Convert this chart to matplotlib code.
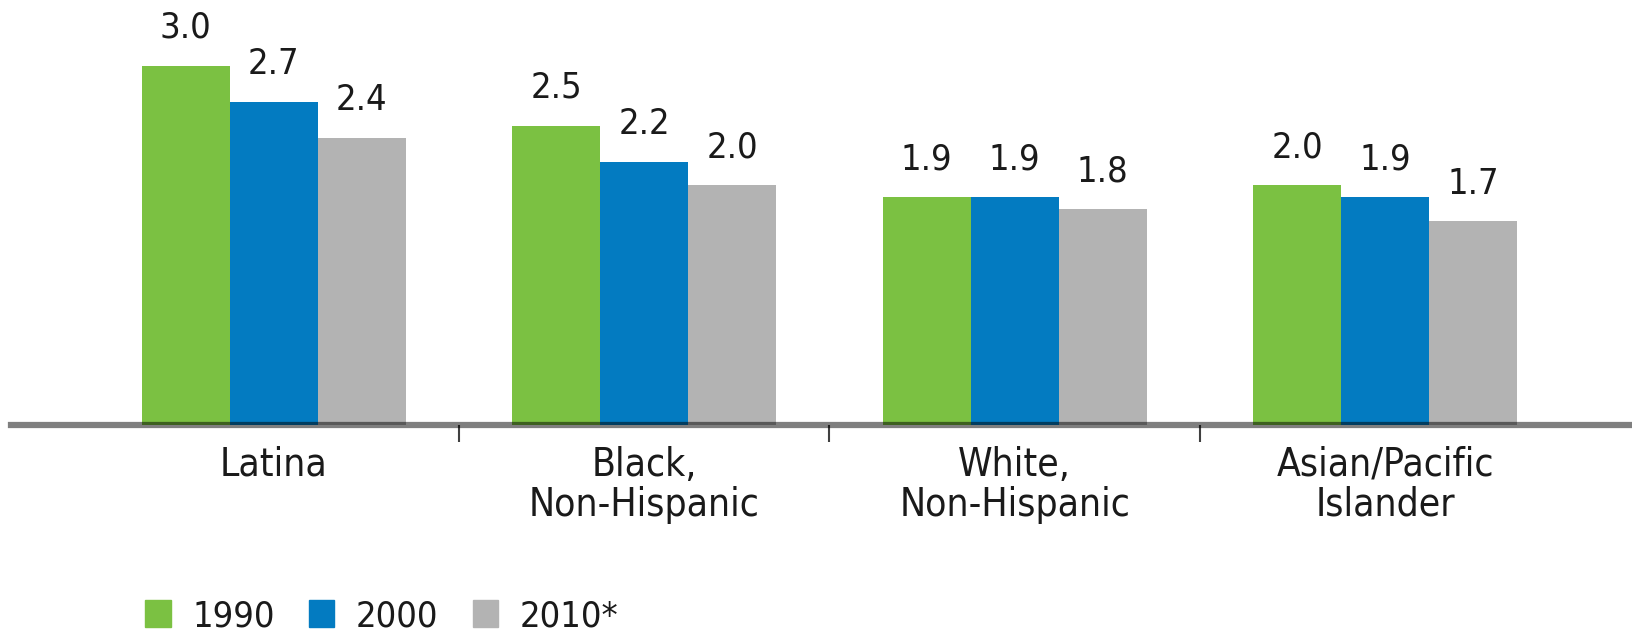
import matplotlib
matplotlib.use("Agg")
from matplotlib import pyplot as plt
from matplotlib.patches import Patch
import numpy as np

categories = ["Latina", "Black,\nNon-Hispanic", "White,\nNon-Hispanic", "Asian/Pacific\nIslander"]
years = ["1990", "2000", "2010*"]
y1990 = [3.0, 2.5, 1.9, 2.0]
y2000 = [2.7, 2.2, 1.9, 1.9]
y2010 = [2.4, 2.0, 1.8, 1.7]

colors = ["#7BC142", "#037BC1", "#B3B3B3"]

plt.rcParams["font.family"] = ["DejaVu Sans"]
plt.rcParams["font.stretch"] = "condensed"
fs = 28
fs_num = 26

fig = plt.figure(figsize=(16.32, 6.36), dpi=100)
ax = fig.add_axes([0.007, 0.332, 0.993, 0.668])

x = np.arange(len(categories))
w = 0.2375
for i, (vals, c) in enumerate(zip([y1990, y2000, y2010], colors)):
    bars = ax.bar(x + (i - 1) * w, vals, w, color=c, zorder=2)
    for b, v in zip(bars, vals):
        ax.annotate(f"{v:.1f}", (b.get_x() + b.get_width() / 2, v),
                    xytext=(0, 15), textcoords="offset points",
                    ha="center", va="bottom", fontsize=fs_num, color="#1a1a1a")

ax.axhline(0, color="black", alpha=0.5, lw=4.5, zorder=3, clip_on=False)

ax.set_xlim(-0.708, 3.666)
ax.set_ylim(0, 3.55)
for s in ax.spines.values():
    s.set_visible(False)
ax.set_yticks([])
ax.set_xticks(x)
ax.set_xticklabels(categories, fontsize=fs, linespacing=1.07, color="#1a1a1a")
ax.set_xticks([0.5, 1.5, 2.5], minor=True)
ax.tick_params(axis="x", which="major", length=0, pad=15)
ax.tick_params(axis="x", which="minor", length=12, width=1.5, color="#404040", direction="out")

handles = [Patch(color=c, label=l) for c, l in zip(colors, years)]
fig.legend(handles=handles, loc="lower left", bbox_to_anchor=(0.078, -0.024),
           ncol=3, frameon=False, fontsize=fs_num, handlelength=0.7, handleheight=0.75,
           handletextpad=0.6, columnspacing=0.95, borderpad=0, labelcolor="#1a1a1a")

fig.savefig("out.png", dpi=100)
